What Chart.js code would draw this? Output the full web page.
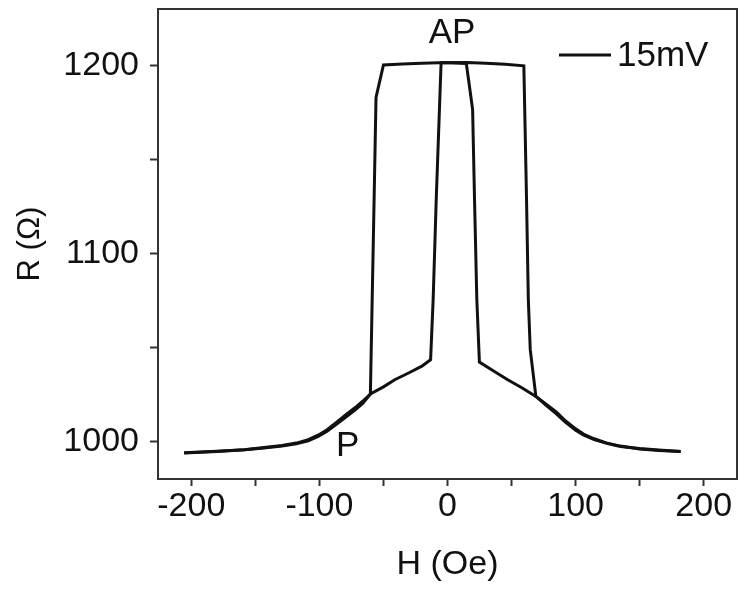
<!DOCTYPE html>
<html>
<head>
<meta charset="utf-8">
<script src="https://cdn.jsdelivr.net/npm/chart.js@4.4.0/dist/chart.umd.min.js"></script>
<style>
    html, body { margin: 0; padding: 0; background: #fff; }
    #wrap { width: 740px; height: 590px; }
</style>
</head>
<body>
<div id="wrap"><canvas id="loop"></canvas></div>
<script>
// field sweeping down (from +H to -H)
const downH = [182, 165, 150, 135, 125, 114.5, 106, 99.8, 92, 85, 77, 69, 58, 47, 36, 24.9, 22.9, 21.1, 19.6, 14.7,
    0, -20, -35, -50, -55.8, -57.3, -58.8, -60.2, -66, -72, -79.3, -87, -94, -101, -108.7, -118, -129.2, -145, -158.6, -180, -205.6]
const downR = [994.6, 995.4, 996.2, 997.3, 998.8, 1000.9, 1003.4, 1006.0, 1010.2, 1014.6, 1019.2, 1023.9, 1028.5, 1032.8, 1037.4, 1042.2, 1075.4, 1128.6, 1176.6, 1201.0,
    1201.5, 1201.2, 1200.8, 1200.2, 1183.0, 1128.6, 1075.4, 1025.2, 1021.5, 1018.0, 1014.2, 1010.0, 1006.2, 1003.3, 1000.9, 999.1, 997.8, 996.6, 995.6, 994.6, 993.8]

// field sweeping up (from -H to +H)
const upH = [-205.6, -180, -158.6, -145, -129.2, -118, -108.7, -101, -94, -87, -79.3, -72, -66, -60.2, -50, -41.2, -30, -20, -13.2, -11.2, -8.8, -5.0,
    15, 30, 45, 59.6, 61.7, 63.1, 64.6, 69, 77, 85.1, 92, 99.8, 107, 114.5, 124, 135, 150, 165, 182]
const upR = [993.9, 994.7, 995.5, 996.4, 997.6, 998.7, 1000.3, 1002.6, 1005.4, 1009.0, 1013.0, 1016.8, 1020.3, 1025.2, 1029.0, 1032.8, 1036.5, 1040.0, 1043.5, 1075.4, 1128.6, 1201.4,
    1201.5, 1201.2, 1200.6, 1199.8, 1128.6, 1075.4, 1048.8, 1023.9, 1019.8, 1015.6, 1011.0, 1006.8, 1003.6, 1001.4, 999.2, 997.5, 996.0, 995.1, 994.6]

const xTicks = [-200, -150, -100, -50, 0, 50, 100, 150, 200]
const xTickLabels = [-200, -100, 0, 100, 200]
const yTicks = [1000, 1050, 1100, 1150, 1200]
const yTickLabels = [1000, 1100, 1200]
const legendLabel = '15mV'
const notes = [{ text: 'AP', x: 3.5, y: 1217.3 }, { text: 'P', x: -78, y: 997.4 }]

const fontFamily = "'Liberation Sans', Arial, sans-serif"

function toPoints(hs, rs) {
    return hs.map((h, i) => ({ x: h, y: rs[i] }))
}

const framePlugin = {
    id: 'frame',
    afterDraw(chart) {
        const { ctx, chartArea, scales } = chart
        ctx.save()
        ctx.strokeStyle = '#333'
        ctx.lineWidth = 2
        ctx.strokeRect(chartArea.left, chartArea.top, chartArea.right - chartArea.left, chartArea.bottom - chartArea.top)

        ctx.fillStyle = '#111'
        ctx.font = '35px ' + fontFamily
        ctx.textAlign = 'center'
        ctx.textBaseline = 'middle'
        notes.forEach(n => {
            ctx.fillText(n.text, scales.x.getPixelForValue(n.x), scales.y.getPixelForValue(n.y))
        })

        // legend, top right inside the frame
        const ly = chartArea.top + 46
        ctx.strokeStyle = '#111'
        ctx.lineWidth = 3
        ctx.beginPath()
        ctx.moveTo(chartArea.right - 178, ly)
        ctx.lineTo(chartArea.right - 126, ly)
        ctx.stroke()
        ctx.textAlign = 'left'
        ctx.fillText(legendLabel, chartArea.right - 120, ly + 1)
        ctx.restore()
    }
}

const ctx = document.getElementById('loop').getContext('2d')
const chart = new Chart(ctx, {
    type: 'scatter',
    data: {
        datasets: [{
            label: legendLabel,
            data: toPoints(downH, downR),
            showLine: true,
            borderColor: '#111',
            borderWidth: 3,
            pointRadius: 0,
            tension: 0
        }, {
            label: legendLabel,
            data: toPoints(upH, upR),
            showLine: true,
            borderColor: '#111',
            borderWidth: 3,
            pointRadius: 0,
            tension: 0
        }]
    },
    options: {
        responsive: true,
        maintainAspectRatio: false,
        animation: false,
        layout: { padding: { top: 9, right: 3, left: 0, bottom: 0 } },
        plugins: {
            legend: { display: false },
            tooltip: { enabled: false }
        },
        scales: {
            x: {
                type: 'linear',
                min: -226,
                max: 226,
                afterBuildTicks: (s) => { s.ticks = xTicks.map(v => ({ value: v })) },
                afterFit: (s) => { s.height = 111; s.paddingLeft = 0; s.paddingRight = 0 },
                grid: { drawOnChartArea: false, drawTicks: true, tickLength: 7, tickWidth: 2, tickColor: '#333' },
                border: { display: false },
                ticks: {
                    maxRotation: 0,
                    autoSkip: false,
                    padding: 0,
                    color: '#111',
                    font: { family: fontFamily, size: 34 },
                    callback: (v) => xTickLabels.includes(v) ? String(v) : ''
                },
                title: {
                    display: true,
                    text: 'H (Oe)',
                    color: '#111',
                    font: { family: fontFamily, size: 34 },
                    padding: { top: 0, bottom: 5 }
                }
            },
            y: {
                type: 'linear',
                min: 980,
                max: 1230,
                afterBuildTicks: (s) => { s.ticks = yTicks.map(v => ({ value: v })) },
                afterFit: (s) => { s.width = 158; s.paddingTop = 0; s.paddingBottom = 0 },
                grid: { drawOnChartArea: false, drawTicks: true, tickLength: 8, tickWidth: 2, tickColor: '#333' },
                border: { display: false },
                ticks: {
                    autoSkip: false,
                    padding: 11,
                    color: '#111',
                    font: { family: fontFamily, size: 34 },
                    callback: (v) => yTickLabels.includes(v) ? String(v) : ''
                },
                title: {
                    display: true,
                    text: 'R (Ω)',
                    color: '#111',
                    font: { family: fontFamily, size: 31 },
                    padding: { top: 12, bottom: 0 }
                }
            }
        }
    },
    plugins: [framePlugin]
})
</script>
</body>
</html>
